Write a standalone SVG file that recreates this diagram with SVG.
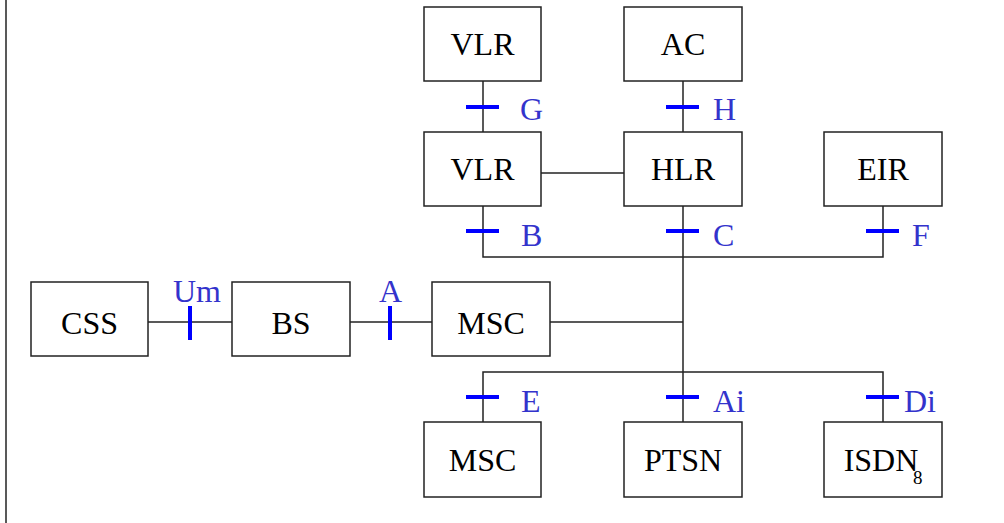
<svg xmlns="http://www.w3.org/2000/svg" width="1004" height="523" viewBox="0 0 1004 523">
<style>
.box{fill:#fff;stroke:#222;stroke-width:1.5}
.t{font-family:"Liberation Serif","Times New Roman",serif;font-size:32px;fill:#000;text-anchor:middle}
.l{font-family:"Liberation Serif","Times New Roman",serif;font-size:32px;fill:#3333cc}
.w{stroke:#222;stroke-width:1.5;fill:none}
.k{stroke:#0000ff;stroke-width:4}
</style>
<rect width="1004" height="523" fill="#fff"/>
<line x1="6" y1="0" x2="6" y2="523" stroke="#222" stroke-width="1.5"/>
<g id="connectors">
<line class="w" x1="483" y1="81" x2="483" y2="132"/>
<line class="w" x1="683" y1="81" x2="683" y2="132"/>
<line class="w" x1="541" y1="173" x2="624" y2="173"/>
<polyline class="w" points="483,206 483,257 883,257 883,206"/>
<line class="w" x1="683" y1="206" x2="683" y2="422"/>
<polyline class="w" points="483,422 483,372 883,372 883,422"/>
<line class="w" x1="148" y1="322" x2="232" y2="322"/>
<line class="w" x1="350" y1="322" x2="432" y2="322"/>
<line class="w" x1="550" y1="322" x2="683" y2="322"/>
<line class="k" x1="466" y1="107" x2="499" y2="107"/>
<line class="k" x1="666" y1="107" x2="699" y2="107"/>
<line class="k" x1="466" y1="231" x2="499" y2="231"/>
<line class="k" x1="666" y1="231" x2="699" y2="231"/>
<line class="k" x1="866" y1="231" x2="899" y2="231"/>
<line class="k" x1="466" y1="397" x2="499" y2="397"/>
<line class="k" x1="666" y1="397" x2="699" y2="397"/>
<line class="k" x1="866" y1="397" x2="899" y2="397"/>
<line class="k" x1="190" y1="306" x2="190" y2="340"/>
<line class="k" x1="390" y1="306" x2="390" y2="340"/>
<text class="l" x="520" y="120">G</text>
<text class="l" x="713" y="120">H</text>
<text class="l" x="521" y="246">B</text>
<text class="l" x="713" y="246">C</text>
<text class="l" x="912" y="246">F</text>
<text class="l" x="521" y="412">E</text>
<text class="l" x="713" y="412">Ai</text>
<text class="l" x="904" y="412">Di</text>
<text class="l" x="173" y="302">Um</text>
<text class="l" x="379" y="302">A</text>
</g>
<g id="vlr1"><rect class="box" x="424" y="7" width="117" height="74"/><text class="t" x="482.5" y="55">VLR</text></g>
<g id="ac"><rect class="box" x="624" y="7" width="118" height="74"/><text class="t" x="683" y="55">AC</text></g>
<g id="vlr2"><rect class="box" x="424" y="132" width="117" height="74"/><text class="t" x="482.5" y="180">VLR</text></g>
<g id="hlr"><rect class="box" x="624" y="132" width="118" height="74"/><text class="t" x="683" y="180">HLR</text></g>
<g id="eir"><rect class="box" x="824" y="132" width="118" height="74"/><text class="t" x="883" y="180">EIR</text></g>
<g id="css"><rect class="box" x="31" y="282" width="117" height="74"/><text class="t" x="89.5" y="334">CSS</text></g>
<g id="bs"><rect class="box" x="232" y="282" width="118" height="74"/><text class="t" x="291" y="334">BS</text></g>
<g id="msc1"><rect class="box" x="432" y="282" width="118" height="74"/><text class="t" x="491" y="334">MSC</text></g>
<g id="msc2"><rect class="box" x="424" y="422" width="117" height="75"/><text class="t" x="482.5" y="471">MSC</text></g>
<g id="ptsn"><rect class="box" x="624" y="422" width="118" height="75"/><text class="t" x="683" y="471">PTSN</text></g>
<g id="isdn"><rect class="box" x="824" y="422" width="118" height="75"/><text class="t" x="881" y="471">ISDN</text><text x="913" y="484" font-family="Liberation Serif, serif" font-size="19" fill="#000">8</text></g>
</svg>
